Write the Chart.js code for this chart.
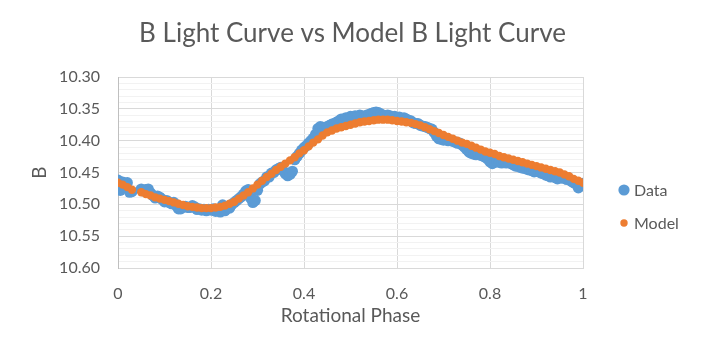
<!DOCTYPE html>
<html>
<head>
<meta charset="utf-8">
<script src="https://cdn.jsdelivr.net/npm/chart.js@4/dist/chart.umd.min.js"></script>
<style>
  html, body { margin: 0; padding: 0; background: #fff; }
  #wrap { width: 705px; height: 361px; }
</style>
</head>
<body>
<div id="wrap"><canvas id="chart" width="705" height="361"></canvas></div>
<script>
// phases of the observations
const dataPhase = [
  0.000, 0.005, 0.010, 0.015, 0.020, 0.025, 0.030,
  0.050, 0.055, 0.060, 0.065, 0.070, 0.075, 0.080, 0.085, 0.090, 0.095,
  0.100, 0.105, 0.110, 0.115, 0.120, 0.125, 0.130, 0.135, 0.140, 0.145,
  0.150, 0.155, 0.160, 0.165, 0.170, 0.175, 0.180, 0.185, 0.190, 0.195,
  0.200, 0.205, 0.210, 0.215, 0.220, 0.225, 0.230, 0.235, 0.240, 0.245,
  0.250, 0.255, 0.260, 0.265, 0.270, 0.275, 0.280, 0.285, 0.290, 0.295,
  0.300, 0.305, 0.310, 0.315, 0.320, 0.325, 0.330, 0.335, 0.340, 0.345,
  0.350, 0.355, 0.360, 0.365, 0.370, 0.375, 0.380, 0.385, 0.390, 0.395,
  0.400, 0.405, 0.410, 0.415, 0.420, 0.425, 0.430, 0.435, 0.440, 0.445,
  0.450, 0.455, 0.460, 0.465, 0.470, 0.475, 0.480, 0.485, 0.490, 0.495,
  0.500, 0.505, 0.510, 0.515, 0.520, 0.525, 0.530, 0.535, 0.540, 0.545,
  0.550, 0.555, 0.560, 0.565, 0.570, 0.575, 0.580, 0.585, 0.590, 0.595,
  0.600, 0.605, 0.610, 0.615, 0.620, 0.625, 0.630, 0.635, 0.640, 0.645,
  0.650, 0.655, 0.660, 0.665, 0.670, 0.675, 0.680, 0.685, 0.690, 0.695,
  0.700, 0.705, 0.710, 0.715, 0.720, 0.725, 0.730, 0.735, 0.740, 0.745,
  0.750, 0.755, 0.760, 0.765, 0.770, 0.775, 0.780, 0.785, 0.790, 0.795,
  0.800, 0.805, 0.810, 0.815, 0.820, 0.825, 0.830, 0.835, 0.840, 0.845,
  0.850, 0.855, 0.860, 0.865, 0.870, 0.875, 0.880, 0.885, 0.890, 0.895,
  0.900, 0.905, 0.910, 0.915, 0.920, 0.925, 0.930, 0.935, 0.940, 0.945,
  0.950, 0.955, 0.960, 0.965, 0.970, 0.975, 0.980, 0.985, 0.990, 0.995,
  1.000
];

// observed B magnitudes
const dataB = [
  10.462, 10.478, 10.465, 10.470, 10.466, 10.481, 10.480,
  10.476, 10.479, 10.477, 10.476, 10.482, 10.486, 10.490, 10.487, 10.489, 10.492,
  10.496, 10.494, 10.497, 10.499, 10.497, 10.502, 10.507, 10.507, 10.504, 10.503,
  10.505, 10.505, 10.502, 10.504, 10.508, 10.507, 10.509, 10.508, 10.510, 10.508,
  10.509, 10.507, 10.511, 10.509, 10.512, 10.501, 10.510, 10.503, 10.506, 10.500,
  10.497, 10.494, 10.491, 10.488, 10.484, 10.479, 10.477, 10.490, 10.497, 10.494,
  10.478, 10.468, 10.465, 10.463, 10.457, 10.457, 10.451, 10.450, 10.446, 10.444,
  10.442, 10.447, 10.452, 10.455, 10.453, 10.448, 10.430, 10.425, 10.420, 10.415,
  10.411, 10.408, 10.404, 10.400, 10.396, 10.390, 10.381, 10.378, 10.379, 10.380,
  10.378, 10.376, 10.374, 10.373, 10.371, 10.369, 10.366, 10.367, 10.364, 10.365,
  10.362, 10.363, 10.361, 10.362, 10.360, 10.361, 10.362, 10.360, 10.359, 10.357,
  10.356, 10.355, 10.356, 10.358, 10.360, 10.361, 10.360, 10.361, 10.363, 10.362,
  10.364, 10.363, 10.365, 10.364, 10.366, 10.368, 10.369, 10.372, 10.373, 10.373,
  10.376, 10.377, 10.378, 10.379, 10.381, 10.382, 10.387, 10.393, 10.397, 10.398,
  10.399, 10.398, 10.400, 10.399, 10.401, 10.402, 10.404, 10.404, 10.407, 10.410,
  10.414, 10.418, 10.420, 10.421, 10.422, 10.421, 10.423, 10.424, 10.426, 10.429,
  10.433, 10.436, 10.434, 10.432, 10.434, 10.435, 10.433, 10.435, 10.434, 10.436,
  10.438, 10.440, 10.440, 10.442, 10.443, 10.443, 10.445, 10.446, 10.447, 10.449,
  10.448, 10.449, 10.451, 10.452, 10.454, 10.455, 10.457, 10.456, 10.458, 10.460,
  10.456, 10.459, 10.458, 10.461, 10.460, 10.464, 10.466, 10.468, 10.474, 10.470,
  10.467
];

// phases where the model is plotted
const modelPhase = [
  0.00, 0.01, 0.02, 0.03, 0.05, 0.06, 0.07, 0.08, 0.09, 0.10,
  0.11, 0.12, 0.13, 0.14, 0.15, 0.16, 0.17, 0.18, 0.19, 0.20,
  0.21, 0.22, 0.23, 0.24, 0.25, 0.26, 0.27, 0.28, 0.29, 0.30,
  0.31, 0.32, 0.33, 0.34, 0.35, 0.36, 0.37, 0.38, 0.39, 0.40,
  0.41, 0.42, 0.43, 0.44, 0.45, 0.46, 0.47, 0.48, 0.49, 0.50,
  0.51, 0.52, 0.53, 0.54, 0.55, 0.56, 0.57, 0.58, 0.59, 0.60,
  0.61, 0.62, 0.63, 0.64, 0.65, 0.66, 0.67, 0.68, 0.69, 0.70,
  0.71, 0.72, 0.73, 0.74, 0.75, 0.76, 0.77, 0.78, 0.79, 0.80,
  0.81, 0.82, 0.83, 0.84, 0.85, 0.86, 0.87, 0.88, 0.89, 0.90,
  0.91, 0.92, 0.93, 0.94, 0.95, 0.96, 0.97, 0.98, 0.99, 1.00
];

// model B magnitudes
const modelB = [
  10.466, 10.469, 10.473, 10.477, 10.481, 10.484, 10.486, 10.489, 10.491, 10.493,
  10.495, 10.497, 10.499, 10.501, 10.503, 10.504, 10.505, 10.506, 10.506, 10.506,
  10.505, 10.504, 10.502, 10.499, 10.496, 10.491, 10.486, 10.481, 10.475, 10.469,
  10.463, 10.457, 10.452, 10.446, 10.441, 10.436, 10.431, 10.426, 10.420, 10.415,
  10.409, 10.403, 10.398, 10.392, 10.387, 10.384, 10.381, 10.379, 10.377, 10.375,
  10.373, 10.371, 10.370, 10.369, 10.368, 10.367, 10.367, 10.367, 10.368, 10.369,
  10.370, 10.371, 10.372, 10.374, 10.376, 10.379, 10.382, 10.385, 10.388, 10.391,
  10.394, 10.397, 10.400, 10.403, 10.405, 10.408, 10.411, 10.414, 10.417, 10.419,
  10.421, 10.424, 10.426, 10.428, 10.430, 10.432, 10.434, 10.436, 10.438, 10.440,
  10.442, 10.444, 10.446, 10.448, 10.450, 10.453, 10.456, 10.460, 10.463, 10.466
];

// y axis: labelled ticks every 0.05, minor gridlines every 0.01
const yMajorTicks = [10.30, 10.35, 10.40, 10.45, 10.50, 10.55, 10.60];
const yMinorStep = 0.01;
const xTicks = [0, 0.2, 0.4, 0.6, 0.8, 1];

const TEXT = '#595959';
const FONT = 'Lato, "Open Sans", sans-serif';

function toPoints(xs, ys) {
  return xs.map((p, i) => ({ x: p, y: ys[i] }));
}

function isMajor(v) {
  return yMajorTicks.some(m => Math.abs(m - v) < 1e-6);
}

// legend drawn at the right, like the spreadsheet one
const sideLegend = {
  id: 'sideLegend',
  afterDraw(chart) {
    const ctx = chart.ctx;
    const rows = [190, 223];
    const sizes = [5.6, 3.7];
    ctx.save();
    ctx.font = '16px ' + FONT;
    ctx.textBaseline = 'middle';
    ctx.textAlign = 'left';
    ['Data', 'Model'].forEach((name, i) => {
      const ds = chart.data.datasets.find(d => d.label === name);
      ctx.fillStyle = ds.backgroundColor;
      ctx.beginPath();
      ctx.arc(624, rows[i], sizes[i], 0, Math.PI * 2);
      ctx.fill();
      ctx.fillStyle = TEXT;
      ctx.fillText(name, 634, rows[i] + 1);
    });
    ctx.restore();
  }
};

new Chart(document.getElementById('chart'), {
  type: 'scatter',
  data: {
    datasets: [
      {
        label: 'Data',
        data: toPoints(dataPhase, dataB),
        backgroundColor: '#5B9BD5',
        borderWidth: 0,
        pointRadius: 5.6,
        pointHoverRadius: 5.6,
        order: 2
      },
      {
        label: 'Model',
        data: toPoints(modelPhase, modelB),
        backgroundColor: '#ED7D31',
        borderWidth: 0,
        pointRadius: 4.2,
        pointHoverRadius: 4.2,
        order: 1
      }
    ]
  },
  options: {
    responsive: false,
    animation: false,
    events: [],
    layout: { padding: 0 },
    plugins: {
      legend: { display: false },
      tooltip: { enabled: false },
      title: {
        display: true,
        text: 'B Light Curve vs Model B Light Curve',
        color: TEXT,
        font: { family: FONT, size: 26, weight: 'normal' },
        padding: { top: 18, bottom: 27.8 }
      }
    },
    scales: {
      x: {
        type: 'linear',
        min: 0,
        max: 1,
        afterFit: s => { s.height = 93; },
        afterBuildTicks: s => { s.ticks = xTicks.map(v => ({ value: v })); },
        ticks: {
          color: TEXT,
          font: { family: FONT, size: 16 },
          padding: 15.9,
          autoSkip: false,
          maxRotation: 0,
          callback: v => String(v)
        },
        grid: { color: '#D9D9D9', lineWidth: 1, drawTicks: false },
        border: { color: '#D9D9D9', width: 1 },
        title: {
          display: true,
          text: 'Rotational Phase',
          color: TEXT,
          font: { family: FONT, size: 19 },
          padding: { top: 0, bottom: 33.3 }
        }
      },
      y: {
        type: 'linear',
        reverse: true,
        min: 10.30,
        max: 10.60,
        afterFit: s => { s.width = 118; },
        afterBuildTicks: s => {
          const ticks = [];
          const lo = yMajorTicks[0];
          const hi = yMajorTicks[yMajorTicks.length - 1];
          const n = Math.round((hi - lo) / yMinorStep);
          for (let i = 0; i <= n; i++) ticks.push({ value: +(lo + i * yMinorStep).toFixed(2) });
          s.ticks = ticks;
        },
        ticks: {
          color: TEXT,
          font: { family: FONT, size: 16 },
          padding: 18,
          autoSkip: false,
          callback: v => isMajor(v) ? v.toFixed(2) : ''
        },
        grid: {
          drawTicks: false,
          lineWidth: 1,
          color: c => (c.tick && isMajor(c.tick.value)) ? '#D9D9D9' : '#F2F2F2'
        },
        border: { color: '#BFBFBF', width: 1 },
        title: {
          display: true,
          text: 'B',
          color: TEXT,
          font: { family: FONT, size: 19 },
          padding: { top: 28.6, bottom: 0 }
        }
      },
      // empty box on the right that leaves room for the legend
      legendRoom: {
        type: 'linear',
        axis: 'y',
        position: 'right',
        afterFit: s => { s.width = 122; },
        grid: { display: false },
        ticks: { display: false },
        border: { display: false }
      }
    }
  },
  plugins: [sideLegend]
});
</script>
</body>
</html>
